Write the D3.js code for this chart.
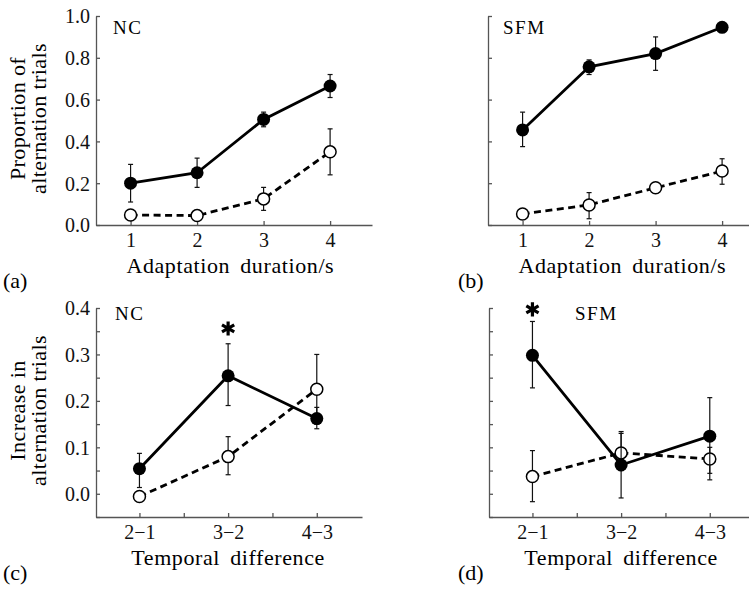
<!DOCTYPE html>
<html>
<head>
<meta charset="utf-8">
<script src="https://cdn.jsdelivr.net/npm/d3@7"></script>
<style>
  body { margin: 0; background: #fff; }
  svg { display: block; }
</style>
</head>
<body>
<div id="chart"></div>
<script>
// x categories
var durations = [1, 2, 3, 4];
var diffLabels = ["2\u22121", "3\u22122", "4\u22123"];

// (a) NC, proportion of alternation trials
var ncFilled   = [0.20, 0.25, 0.505, 0.665];
var ncFilledHi = [0.29, 0.32, 0.54, 0.72];
var ncFilledLo = [0.11, 0.18, 0.47, 0.61];
var ncOpen     = [0.048, 0.045, 0.125, 0.35];
var ncOpenHi   = [0.06, 0.055, 0.18, 0.46];
var ncOpenLo   = [0.035, 0.035, 0.07, 0.24];

// (b) SFM, proportion of alternation trials
var sfmFilled   = [0.455, 0.757, 0.82, 0.946];
var sfmFilledHi = [0.54, 0.79, 0.90, 0.955];
var sfmFilledLo = [0.375, 0.72, 0.74, 0.935];
var sfmOpen     = [0.053, 0.096, 0.178, 0.258];
var sfmOpenHi   = [0.065, 0.155, 0.19, 0.317];
var sfmOpenLo   = [0.04, 0.03, 0.165, 0.195];

// (c) NC, increase in alternation trials
var ncDiffFilled   = [0.054, 0.254, 0.162];
var ncDiffFilledHi = [0.087, 0.323, 0.186];
var ncDiffFilledLo = [0.0135, 0.19, 0.14];
var ncDiffOpen     = [-0.006, 0.08, 0.225];
var ncDiffOpenHi   = [0.005, 0.123, 0.30];
var ncDiffOpenLo   = [-0.015, 0.041, 0.15];

// (d) SFM, increase in alternation trials
var sfmDiffFilled   = [0.298, 0.062, 0.124];
var sfmDiffFilledHi = [0.371, 0.13, 0.207];
var sfmDiffFilledLo = [0.228, -0.009, 0.03];
var sfmDiffOpen     = [0.037, 0.088, 0.075];
var sfmDiffOpenHi   = [0.093, 0.134, 0.10];
var sfmDiffOpenLo   = [-0.017, 0.05, 0.044];

// significance stars [category index, y]
var ncStar  = [1, 0.356];
var sfmStar = [0, 0.397];

var propTicks = [0, 0.2, 0.4, 0.6, 0.8, 1.0];
var diffTicks = [-0.05, 0, 0.05, 0.1, 0.15, 0.2, 0.25, 0.3, 0.35, 0.4];
var diffLabelTicks = [0, 0.1, 0.2, 0.3, 0.4];

var SERIF = '"Liberation Serif", Tinos, "DejaVu Serif", "Times New Roman", Times, serif';

var svg = d3.select("#chart")
  .append("svg")
    .attr("width", 749)
    .attr("height", 589)
    .style("font-family", SERIF);

function series(xs, v, hi, lo) {
  return v.map(function (d, i) { return {x: xs[i], y: d, hi: hi[i], lo: lo[i]}; });
}

function panel(opt) {
  var g = svg.append("g")
    .attr("transform", "translate(" + opt.left + "," + opt.top + ")");

  var x = d3.scaleLinear().domain(opt.xDomain).range([0, opt.width]);
  var y = d3.scaleLinear().domain(opt.yDomain).range([opt.height, 0]);

  // y axis, ticks pointing inward
  var yAxis = d3.axisLeft(y)
    .tickValues(opt.yTicks)
    .tickSizeInner(-4).tickSizeOuter(0).tickPadding(6)
    .tickFormat(function (d) {
      if (!opt.yLabels) return "";
      return opt.yLabelTicks.some(function (t) { return Math.abs(t - d) < 1e-9; }) ? d3.format(".1f")(d) : "";
    });
  var ya = g.append("g").call(yAxis).attr("font-family", null);
  ya.selectAll("text").style("font-size", "20px").attr("dy", "0.34em");

  var xAxis = d3.axisBottom(x)
    .tickValues(opt.xTicks)
    .tickSizeInner(-4).tickSizeOuter(0).tickPadding(8)
    .tickFormat(opt.xFormat);
  var xa = g.append("g")
    .attr("transform", "translate(0," + opt.height + ")")
    .call(xAxis).attr("font-family", null);
  xa.selectAll("text").style("font-size", "20px");

  g.selectAll("text").style("font-family", SERIF).attr("fill", "#111");
  g.selectAll(".domain, .tick line").attr("stroke", "#555").attr("stroke-width", 1.3);

  var line = d3.line()
    .x(function (d) { return x(d.x); })
    .y(function (d) { return y(d.y); });

  [opt.open, opt.filled].forEach(function (s, k) {
    g.append("path")
      .datum(s)
      .attr("d", line)
      .attr("fill", "none")
      .attr("stroke", "#000")
      .attr("stroke-width", 2.8)
      .attr("stroke-dasharray", k === 0 ? "7,4.5" : null);
  });

  [opt.open, opt.filled].forEach(function (s, k) {
    var eb = g.append("g").selectAll("g").data(s).enter().append("g");
    eb.append("line")
      .attr("x1", function (d) { return x(d.x); })
      .attr("x2", function (d) { return x(d.x); })
      .attr("y1", function (d) { return y(d.lo); })
      .attr("y2", function (d) { return y(d.hi); });
    eb.append("line")
      .attr("x1", function (d) { return x(d.x) - 2.5; })
      .attr("x2", function (d) { return x(d.x) + 2.5; })
      .attr("y1", function (d) { return y(d.hi); })
      .attr("y2", function (d) { return y(d.hi); });
    eb.append("line")
      .attr("x1", function (d) { return x(d.x) - 2.5; })
      .attr("x2", function (d) { return x(d.x) + 2.5; })
      .attr("y1", function (d) { return y(d.lo); })
      .attr("y2", function (d) { return y(d.lo); });
    eb.selectAll("line").attr("stroke", "#111").attr("stroke-width", 1.2);

    g.append("g").selectAll("circle").data(s).enter().append("circle")
      .attr("cx", function (d) { return x(d.x); })
      .attr("cy", function (d) { return y(d.y); })
      .attr("r", k === 0 ? 6 : 6.5)
      .attr("fill", k === 0 ? "#fff" : "#000")
      .attr("stroke", "#000")
      .attr("stroke-width", k === 0 ? 1.5 : 0);
  });

  if (opt.star) {
    g.append("path")
      .attr("d", d3.symbol(d3.symbolAsterisk, 140)())
      .attr("transform", "translate(" + x(opt.star[0]) + "," + y(opt.star[1]) + ")")
      .attr("fill", "none")
      .attr("stroke", "#000")
      .attr("stroke-width", 3.2);
  }

  g.append("text")
    .attr("x", opt.tagX)
    .attr("y", opt.tagY)
    .style("font-family", SERIF)
    .style("font-size", "19px")
    .style("letter-spacing", "1.5px")
    .text(opt.tag);

  g.append("text")
    .attr("x", (x(opt.titleSpan[0]) + x(opt.titleSpan[1])) / 2)
    .attr("y", opt.height + 48)
    .attr("text-anchor", "middle")
    .style("font-family", SERIF)
    .style("font-size", "22px")
    .style("letter-spacing", "0.6px")
    .style("word-spacing", "4px")
    .text(opt.xTitle);

  g.append("text")
    .attr("x", opt.letterX)
    .attr("y", opt.height + 63)
    .style("font-family", SERIF)
    .style("font-size", "22px")
    .text(opt.letter);

  if (opt.yTitle) {
    opt.yTitle.forEach(function (t, i) {
      g.append("text")
        .attr("transform", "translate(" + (-71 + i * 21) + "," + (opt.height / 2 - 2) + ") rotate(-90)")
        .attr("text-anchor", "middle")
        .style("font-family", SERIF)
        .style("font-size", "22px")
        .style("letter-spacing", "0.4px")
        .text(t);
    });
  }
}

var durFmt = function (d) { return String(d); };
var diffFmt = function (d) { return Number.isInteger(d) ? diffLabels[d] : ""; };
var diffIdx = diffLabels.map(function (d, i) { return i; });

panel({
  left: 96, top: 16, width: 276, height: 209,
  xDomain: [0.48, 4.63], yDomain: [0, 1],
  xTicks: durations, xFormat: durFmt,
  yTicks: propTicks, yLabels: true, yLabelTicks: propTicks,
  filled: series(durations, ncFilled, ncFilledHi, ncFilledLo),
  open: series(durations, ncOpen, ncOpenHi, ncOpenLo),
  tag: "NC", tagX: 17, tagY: 18,
  xTitle: "Adaptation duration/s", titleSpan: [1, 4],
  letter: "(a)", letterX: -93,
  yTitle: ["Proportion of", "alternation trials"]
});

panel({
  left: 488, top: 16, width: 276, height: 209,
  xDomain: [0.48, 4.63], yDomain: [0, 1],
  xTicks: durations, xFormat: durFmt,
  yTicks: propTicks, yLabels: false,
  filled: series(durations, sfmFilled, sfmFilledHi, sfmFilledLo),
  open: series(durations, sfmOpen, sfmOpenHi, sfmOpenLo),
  tag: "SFM", tagX: 15, tagY: 18,
  xTitle: "Adaptation duration/s", titleSpan: [1, 4],
  letter: "(b)", letterX: -30
});

panel({
  left: 96, top: 308, width: 266, height: 209,
  xDomain: [-0.49, 2.51], yDomain: [-0.05, 0.4],
  xTicks: [0, 0.5, 1, 1.5, 2], xFormat: diffFmt,
  yTicks: diffTicks, yLabels: true, yLabelTicks: diffLabelTicks,
  filled: series(diffIdx, ncDiffFilled, ncDiffFilledHi, ncDiffFilledLo),
  open: series(diffIdx, ncDiffOpen, ncDiffOpenHi, ncDiffOpenLo),
  star: ncStar,
  tag: "NC", tagX: 19, tagY: 12,
  xTitle: "Temporal difference", titleSpan: [0, 2],
  letter: "(c)", letterX: -93,
  yTitle: ["Increase in", "alternation trials"]
});

panel({
  left: 489, top: 308, width: 266, height: 209,
  xDomain: [-0.49, 2.51], yDomain: [-0.05, 0.4],
  xTicks: [0, 0.5, 1, 1.5, 2], xFormat: diffFmt,
  yTicks: diffTicks, yLabels: false,
  filled: series(diffIdx, sfmDiffFilled, sfmDiffFilledHi, sfmDiffFilledLo),
  open: series(diffIdx, sfmDiffOpen, sfmDiffOpenHi, sfmDiffOpenLo),
  star: sfmStar,
  tag: "SFM", tagX: 86, tagY: 12,
  xTitle: "Temporal difference", titleSpan: [0, 2],
  letter: "(d)", letterX: -31
});
</script>
</body>
</html>
